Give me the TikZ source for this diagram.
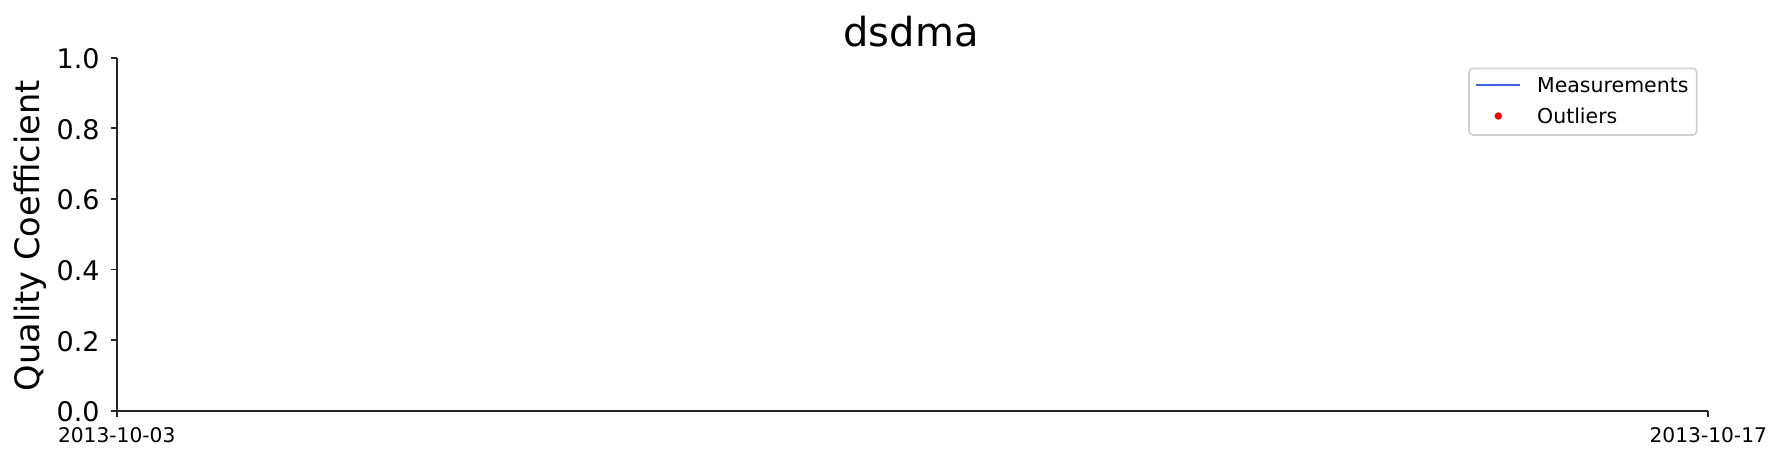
\documentclass[tikz,border=0pt]{standalone}
\usepackage{fontspec}
\setmainfont{DejaVu Sans}
\definecolor{measblue}{RGB}{60,100,225}
\definecolor{spinegray}{RGB}{38,38,38}
\definecolor{framegray}{RGB}{208,208,208}

\begin{document}
\begin{tikzpicture}[x=0.5pt,y=-0.5pt,
		axis/.style={spinegray,line width=0.9pt},
		ytick/.style={anchor=base east,inner sep=0pt,font=\fontsize{13.5}{16}\selectfont},
		xtick/.style={anchor=base,inner sep=0pt,font=\fontsize{10.1}{12}\selectfont},
		legtext/.style={anchor=base west,inner sep=0pt,font=\fontsize{10.25}{12}\selectfont}]
		\useasboundingbox (0,0) rectangle (1783,461);
		\coordinate (origin) at (116.7,410.7);
		\coordinate (ytop) at (116.7,57.7);
		\coordinate (xend) at (1708.3,410.7);
		\draw [axis] (ytop) -- (origin);
		\draw [axis] (origin) -- (xend);
		\draw [axis] (110.7,410.7) -- (116.7,410.7);
		\draw [axis] (110.7,340.1) -- (116.7,340.1);
		\draw [axis] (110.7,269.5) -- (116.7,269.5);
		\draw [axis] (110.7,198.9) -- (116.7,198.9);
		\draw [axis] (110.7,128.3) -- (116.7,128.3);
		\draw [axis] (110.7,57.7) -- (116.7,57.7);
		\node [ytick] (y00) at (100,421.7) {0.0};
		\node [ytick] (y02) at (100,351.1) {0.2};
		\node [ytick] (y04) at (100,280.5) {0.4};
		\node [ytick] (y06) at (100,209.9) {0.6};
		\node [ytick] (y08) at (100,139.3) {0.8};
		\node [ytick] (y10) at (100,68.7) {1.0};
		\draw [axis] (origin) -- +(0,6.6);
		\draw [axis] (xend) -- +(0,6.6);
		\node [xtick] (xfirst) at (116.7,442.3) {2013-10-03};
		\node [xtick] (xlast) at (1708.3,442.3) {2013-10-17};
		\node [rotate=90,anchor=base,inner sep=0pt,font=\fontsize{16.8}{20}\selectfont] (ylabel) at (39.5,235.8) {Quality Coefficient};
		\node [anchor=base,inner sep=0pt,font=\fontsize{20}{24}\selectfont] (title) at (911,46.7) {dsdma};
		\draw [framegray,line width=0.8pt,rounded corners=2pt,fill=white] (1469,68.3) rectangle (1696.7,135);
		\draw [measblue,line width=0.8pt] (1476,85) -- (1520,85);
		\fill [red] (1498.3,116) circle (3.7);
		\node [legtext] (meas) at (1536.7,92.7) {Measurements};
		\node [legtext] (outl) at (1536.7,123.3) {Outliers};
	\end{tikzpicture}
\end{document}
